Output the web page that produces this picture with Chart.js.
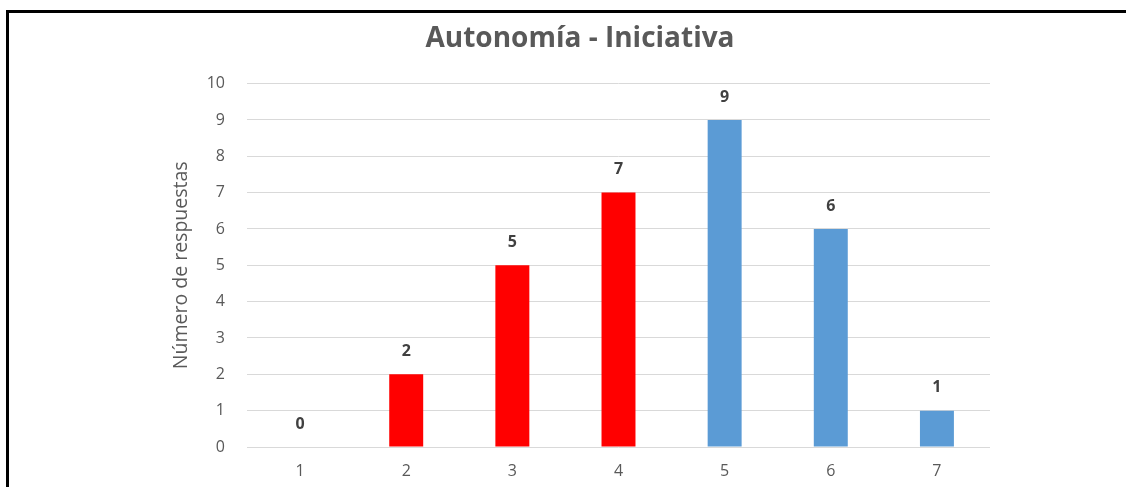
<!DOCTYPE html>
<html>
<head>
<meta charset="utf-8">
<script src="https://cdn.jsdelivr.net/npm/chart.js@4"></script>
<style>
  html, body { margin: 0; padding: 0; background: #fff; overflow: hidden; }
  #marco {
    position: absolute; left: 6px; top: 10px;
    width: 1200px; height: 600px;
    border-top: 3px solid #000; border-left: 3px solid #000;
  }
  #grafico { position: absolute; left: 0; top: 0; }
</style>
</head>
<body>
<div id="marco"></div>
<canvas id="grafico" width="1126" height="487"></canvas>
<script>
var categorie = ['1', '2', '3', '4', '5', '6', '7'];
var risposte = [0, 2, 5, 7, 9, 6, 1];
var coloriBarre = ['#FF0000', '#FF0000', '#FF0000', '#FF0000', '#5B9BD5', '#5B9BD5', '#5B9BD5'];
var titolo = 'Autonomía - Iniciativa';
var titoloAsseY = 'Número de respuestas';

var grigio = '#595959';
var fontBase = "'Open Sans', 'Liberation Sans', sans-serif";

// etichette sopra le barre
var etichettePlugin = {
    id: 'etichette',
    afterDatasetsDraw: function (chart) {
        var ctx = chart.ctx;
        var meta = chart.getDatasetMeta(0);
        ctx.save();
        ctx.font = 'bold 16px ' + fontBase;
        ctx.fillStyle = '#404040';
        ctx.textAlign = 'center';
        ctx.textBaseline = 'middle';
        meta.data.forEach(function (bar, i) {
            ctx.fillText(risposte[i], bar.x, bar.y - 23);
        });
        ctx.restore();
    }
};

var chart = new Chart(document.getElementById('grafico'), {
    type: 'bar',
    data: {
        labels: categorie,
        datasets: [{
            data: risposte,
            backgroundColor: coloriBarre,
            borderWidth: 0,
            barPercentage: 0.32,
            categoryPercentage: 1
        }]
    },
    options: {
        responsive: false,
        animation: false,
        layout: { padding: { left: 170, right: 136, top: 0, bottom: 0 } },
        plugins: {
            legend: { display: false },
            tooltip: { enabled: false },
            title: {
                display: true,
                text: titolo,
                color: grigio,
                font: { family: fontBase, size: 28, weight: 'bold' },
                padding: { top: 22, bottom: 28 }
            }
        },
        scales: {
            x: {
                grid: { display: false, drawTicks: false },
                border: { display: false },
                ticks: { color: grigio, font: { family: fontBase, size: 16 }, padding: 15 },
                afterFit: function (scale) { scale.height = 40; }
            },
            y: {
                min: 0,
                max: 10,
                ticks: { stepSize: 1, color: grigio, font: { family: fontBase, size: 16 }, padding: 22 },
                grid: { color: '#D9D9D9', drawTicks: false },
                border: { display: false },
                title: {
                    display: true,
                    text: titoloAsseY,
                    color: grigio,
                    font: { family: fontBase, size: 19.5 },
                    padding: 0
                },
                afterFit: function (scale) { scale.width = 77; }
            }
        }
    },
    plugins: [etichettePlugin]
});
</script>
</body>
</html>
